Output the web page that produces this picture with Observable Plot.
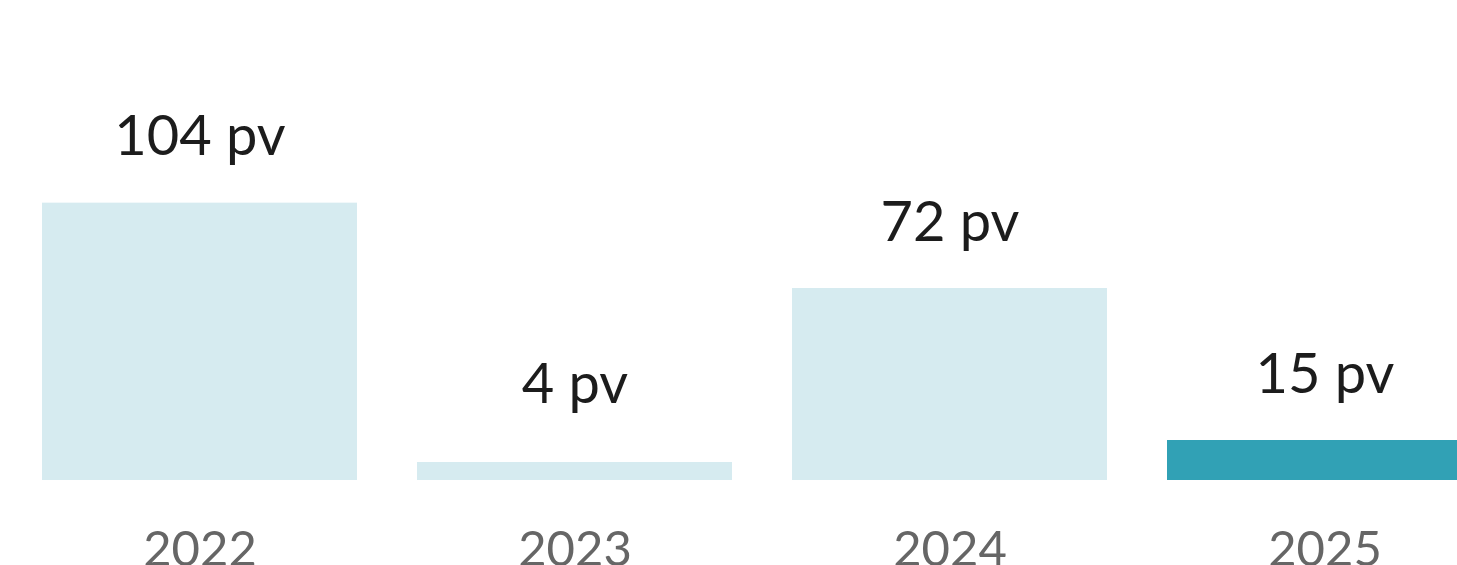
<!DOCTYPE html>
<html>
<head>
<meta charset="utf-8">
<script src="https://cdn.jsdelivr.net/npm/d3@7"></script>
<script src="https://cdn.jsdelivr.net/npm/@observablehq/plot@0.6"></script>
<style>
  html, body { margin: 0; padding: 0; background: #fff; overflow: hidden; }
  #chart { width: 1457px; height: 565px; overflow: hidden; }
  svg { display: block; max-width: none !important; font-family: Lato, "Noto Sans", sans-serif; }
</style>
</head>
<body>
<div id="chart"></div>
<script>
const years = ["2022", "2023", "2024", "2025"];
const values = [104, 4, 72, 15];
const unit = "pv";
const highlighted = [false, false, false, true];

const lightColor = "#d6ebf0";
const darkColor = "#31a1b5";
const minBar = 6.75; // smallest visible bar height, in data units

const data = years.map((y, i) => ({ year: y, value: values[i], hl: highlighted[i] }));

const chart = Plot.plot({
  width: 1512,
  height: 565,
  marginLeft: 12,
  marginRight: 0,
  marginTop: 0,
  marginBottom: 85,
  style: { fontFamily: "Lato, 'Noto Sans', sans-serif", background: "#fff", maxWidth: "none" },
  x: { domain: years, paddingInner: 0.16, paddingOuter: 0.08, label: null },
  y: { domain: [0, 180], axis: null },
  marks: [
    Plot.barY(data, { x: "year", y: d => Math.max(d.value, minBar), fill: d => d.hl ? darkColor : lightColor }),
    Plot.text(data, {
      x: "year",
      y: d => Math.max(d.value + 18, 29),
      text: d => `${d.value} ${unit}`,
      lineAnchor: "bottom",
      fontSize: 56,
      fill: "#1c1c1c"
    }),
    Plot.axisX({ tickSize: 0, tickPadding: 51, fontSize: 49, color: "#666", label: null })
  ]
});
document.getElementById("chart").appendChild(chart);
</script>
</body>
</html>
